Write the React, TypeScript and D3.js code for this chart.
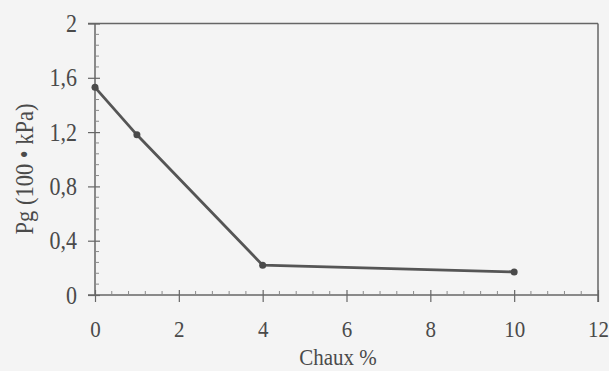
// App.tsx
// line chart: Pg vs Chaux %, drawn with d3 through a ref
import * as d3 from 'd3';
import React, { useRef, useEffect } from 'react';

const chaux = [0, 1, 4, 10];
const pg = [1.53, 1.18, 0.22, 0.17];
const xTicks = [0, 2, 4, 6, 8, 10, 12];
const yTicks = [0, 0.4, 0.8, 1.2, 1.6, 2];
const xTitle = "Chaux %";
const yTitle = "Pg (100 \u2022 kPa)";

function App() {
    const ref = useRef<SVGSVGElement>(null);
    const width = 609;
    const height = 371;

    useEffect(() => {
        const svg = d3.select(ref.current);
        svg.selectAll("*").remove();

        const x = d3.scaleLinear().domain([0, 12]).range([95, 598]);
        const y = d3.scaleLinear().domain([0, 2]).range([295, 23.5]);
        const axisCol = "#666";
        const textCol = "#4a4a4a";
        const font = "'Liberation Serif', 'Times New Roman', serif";
        const stretch = 1.12; // the scanned glyphs are a bit taller than wide

        svg.append("rect").attr("width", width).attr("height", height).attr("fill", "#f4f4f4");

        // frame: top and right
        svg.append("line").attr("x1", 88).attr("x2", x(12)).attr("y1", y(2)).attr("y2", y(2))
            .attr("stroke", axisCol).attr("stroke-width", 1.5);
        svg.append("line").attr("x1", x(12)).attr("x2", x(12)).attr("y1", y(2)).attr("y2", 302)
            .attr("stroke", axisCol).attr("stroke-width", 1.5);

        // x axis
        const gx = svg.append("g").attr("transform", "translate(0," + y(0) + ")");
        gx.call(d3.axisBottom(x).tickValues(xTicks).tickSize(7).tickFormat(d3.format("d")) as any);
        gx.select(".domain").remove();
        gx.append("line").attr("x1", 88).attr("x2", x(12)).attr("stroke", axisCol).attr("stroke-width", 1.5);
        gx.selectAll(".tick line").attr("stroke", axisCol).attr("y1", -5).attr("stroke-width", 1.2);
        gx.selectAll(".tick text").attr("fill", textCol).attr("font-family", font).attr("font-size", 21)
            .attr("dy", 0).attr("y", 42 / stretch).attr("transform", "scale(1," + stretch + ")");
        const xMinor = d3.range(0, 12, 0.4).filter(v => Math.abs(v / 2 - Math.round(v / 2)) > 0.01);
        gx.selectAll(".minor").data(xMinor).enter().append("line")
            .attr("x1", d => x(d)).attr("x2", d => x(d)).attr("y1", 0).attr("y2", -4)
            .attr("stroke", "#8a8a8a").attr("stroke-width", 1);

        // y axis
        const gy = svg.append("g").attr("transform", "translate(" + x(0) + ",0)");
        gy.call(d3.axisLeft(y).tickValues(yTicks).tickSize(7)
            .tickFormat(d => (d === 0 || d === 2) ? String(d) : d3.format(".1f")(d as number).replace(".", ",")) as any);
        gy.select(".domain").attr("stroke", axisCol).attr("stroke-width", 1.5).attr("d", "M0," + y(0) + "V" + y(2));
        gy.selectAll(".tick line").attr("stroke", axisCol).attr("x2", 5).attr("x1", -7).attr("stroke-width", 1.2);
        gy.selectAll(".tick text").attr("fill", textCol).attr("font-family", font).attr("font-size", 22)
            .attr("x", -18).attr("dy", "0.33em").attr("transform", "scale(1," + stretch + ")");
        const yMinor = d3.range(0, 2, 0.08).filter(v => Math.abs(v / 0.4 - Math.round(v / 0.4)) > 0.01);
        gy.selectAll(".minor").data(yMinor).enter().append("line")
            .attr("y1", d => y(d)).attr("y2", d => y(d)).attr("x1", 0).attr("x2", 4)
            .attr("stroke", "#8a8a8a").attr("stroke-width", 1);

        // titles
        svg.append("text").attr("transform", "translate(338,365) scale(1," + stretch + ")")
            .attr("text-anchor", "middle")
            .attr("font-family", font).attr("font-size", 21).attr("fill", textCol).text(xTitle);
        svg.append("text").attr("transform", "translate(33,169) rotate(-90) scale(1," + stretch + ")")
            .attr("text-anchor", "middle")
            .attr("font-family", font).attr("font-size", 22.5).attr("fill", textCol).text(yTitle);

        // data line
        const pts = chaux.map((c, i) => [c, pg[i]] as [number, number]);
        const line = d3.line<[number, number]>().x(d => x(d[0])).y(d => y(d[1]));
        svg.append("path").datum(pts).attr("d", line).attr("fill", "none")
            .attr("stroke", "#555").attr("stroke-width", 2.8);
        svg.selectAll(".pt").data(pts).enter().append("circle")
            .attr("cx", d => x(d[0])).attr("cy", d => y(d[1])).attr("r", 3.5).attr("fill", "#4a4a4a");
    }, []);

    return (
        <svg ref={ref} width={width} height={height}
            style={{ position: "absolute", left: 0, top: 0, display: "block" }}>
        </svg>
    );
}

export default App;
